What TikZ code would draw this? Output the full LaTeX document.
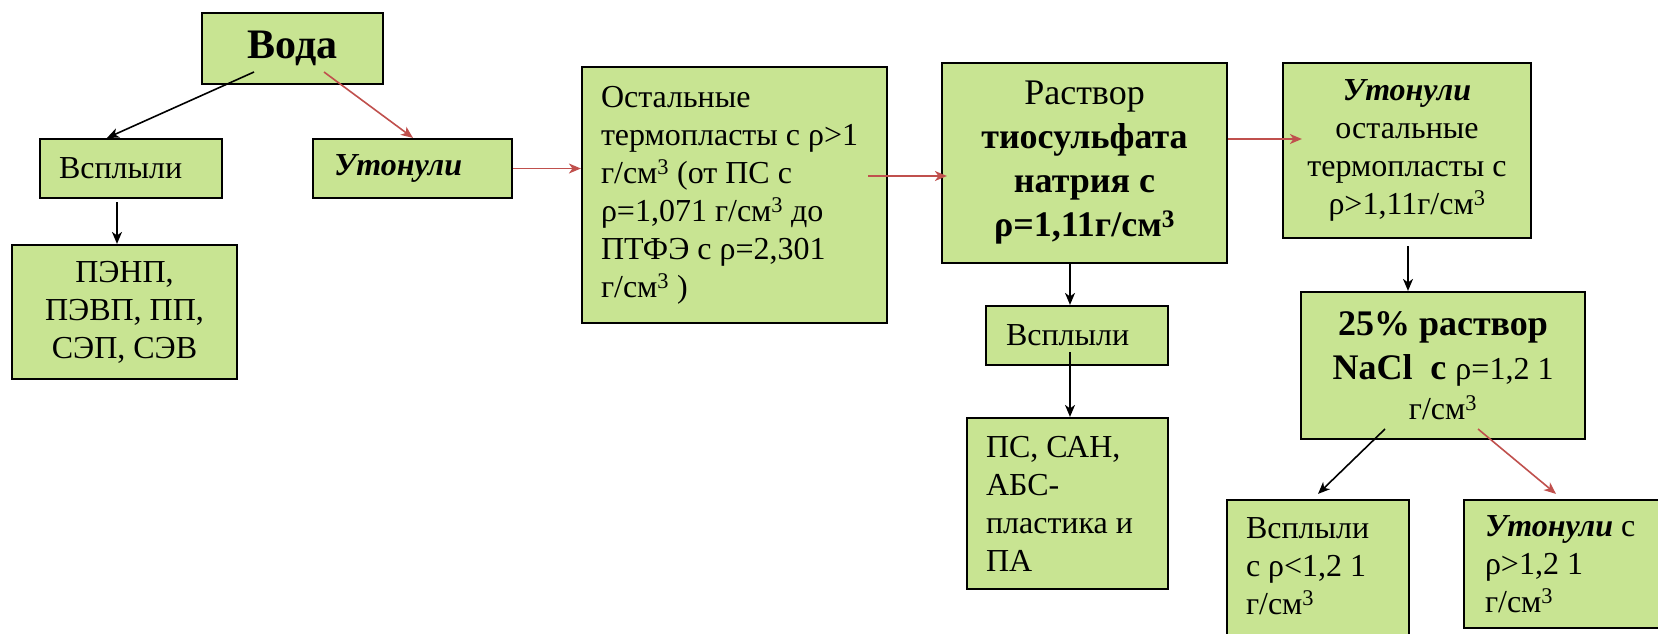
\documentclass[tikz,border=0pt]{standalone}
\usepackage{fontspec}
\setmainfont{Liberation Serif}
\usetikzlibrary{arrows.meta,calc}
\definecolor{boxgreen}{RGB}{200,228,146}
\definecolor{arrred}{RGB}{192,80,77}
\newcommand\fsN{\fontsize{32}{38}\selectfont}
\newcommand\fsR{\fontsize{36}{44}\selectfont}
\newcommand\fsV{\fontsize{42}{50}\selectfont}
\newcommand\gcm{г/см\textsuperscript{3}}
\newcommand\bfit[1]{\textbf{\textit{#1}}}
\begin{document}
\begin{tikzpicture}[x=1pt,y=-1pt,
  box/.style={draw=black, line width=2.2pt, fill=boxgreen, inner ysep=0pt, font=\fsN},
  lbox/.style={box, align=flush left, inner xsep=19pt},
  cbox/.style={box, align=center, inner xsep=6pt},
  txt/.style={inner sep=0pt, font=\fsN, align=flush left},
  arr/.style={-{Stealth[length=12pt,width=10pt,inset=3.5pt]}, line width=1.6pt},
  redarr/.style={arr, draw=arrred, color=arrred}]
\useasboundingbox (0,0) rectangle (1658,633);
\fill[white] (0,0) rectangle (1658,633);
\clip (0,0) rectangle (1658,633);

% boxes
\node[cbox, minimum width=181pt, minimum height=71pt, font=\fsV\bfseries] (voda) at (292.5,48.5) {Вода};
\node[lbox, text width=144pt, minimum width=182pt, minimum height=59pt] (vsL) at (131,168.5) {Всплыли};
\node[lbox, inner xsep=21pt, text width=157pt, minimum width=199pt, minimum height=59pt] (utL) at (412.5,168.5) {\bfit{Утонули}};
\node[cbox, minimum width=225pt, minimum height=134pt] (pe) at (124.5,312) {ПЭНП,\\ПЭВП, ПП,\\СЭП, СЭВ};
\node[lbox, text width=267pt, minimum width=305pt, minimum height=256pt] (ost) at (734.5,195)
  {Остальные\\термопласты с ρ>1\\\gcm{} (от ПС с\\ρ=1,071 \gcm{} до\\ПТФЭ с ρ=2,301\\\gcm{} )};
\node[cbox, minimum width=285pt, minimum height=200pt, font=\fsR] (rast) at (1084.5,163)
  {Раствор\\\textbf{тиосульфата}\\\textbf{натрия с}\\\textbf{ρ=1,11\gcm}};
\node[cbox, minimum width=248pt, minimum height=175pt] (ut2) at (1407,150.5)
  {\bfit{Утонули}\\остальные\\термопласты с\\ρ>1,11\gcm};
\node[lbox, inner xsep=20pt, text width=142pt, minimum width=182pt, minimum height=59pt] (vsM) at (1077,335.5) {Всплыли};
\node[lbox, text width=163pt, minimum width=201pt, minimum height=171pt] (ps) at (1067.5,503.5)
  {ПС, САН,\\АБС-\\пластика и\\ПА};
\node[cbox, minimum width=284pt, minimum height=147pt, font=\fsR] (nacl) at (1443,365.5)
  {\textbf{25\% раствор}\\\textbf{NaCl\ \ с} {\fsN ρ=1,2 1}\\[-4pt]{\fsN\gcm}};
\node[box, minimum width=182pt, minimum height=145pt] (vsB) at (1318,572.5) {};
\node[txt, text width=144pt] (vsBt) at (1318,566) {Всплыли\\с ρ<1,2 1\\\gcm};
\node[lbox, inner xsep=21pt, text width=159pt, minimum width=201pt, minimum height=128pt] (utB) at (1564.5,564)
  {\bfit{Утонули} с\\ρ>1,2 1\\\gcm};

% connectors
\draw[arr] ($(voda.center)+(-38.5,23.5)$) -- ($(vsL.north)+(-24,0)$);
\draw[redarr] ($(voda.center)+(31.5,23.5)$) -- ($(utL.north)+(0.5,0)$);
\draw[arr] ($(vsL.south)+(-14,3)$) -- ($(pe.north)+(-7.5,0)$);
\draw[redarr] (utL.east) -- (utL.east -| ost.west);
\draw[redarr] ($(ost.center)+(133.5,-19)$) -- ($(rast.west)+(6,13)$);
\draw[redarr] ($(rast.east)+(0,-24)$) -- ($(ut2.west)+(20,-11.5)$);
\draw[arr] ($(rast.south)+(-14.5,0)$) -- ($(vsM.north)+(-7,0)$);
\draw[arr] ($(vsM.center)+(-7,16.5)$) -- ($(ps.north)+(2.5,0)$);
\draw[arr] ($(ut2.south)+(1,7)$) -- ($(nacl.north)+(-35,0)$);
\draw[arr] ($(nacl.center)+(-58,63.5)$) -- ($(vsB.north)+(0,-5)$);
\draw[redarr] ($(nacl.center)+(35,63.5)$) -- ($(utB.north)+(-8.5,-5)$);
\end{tikzpicture}
\end{document}
